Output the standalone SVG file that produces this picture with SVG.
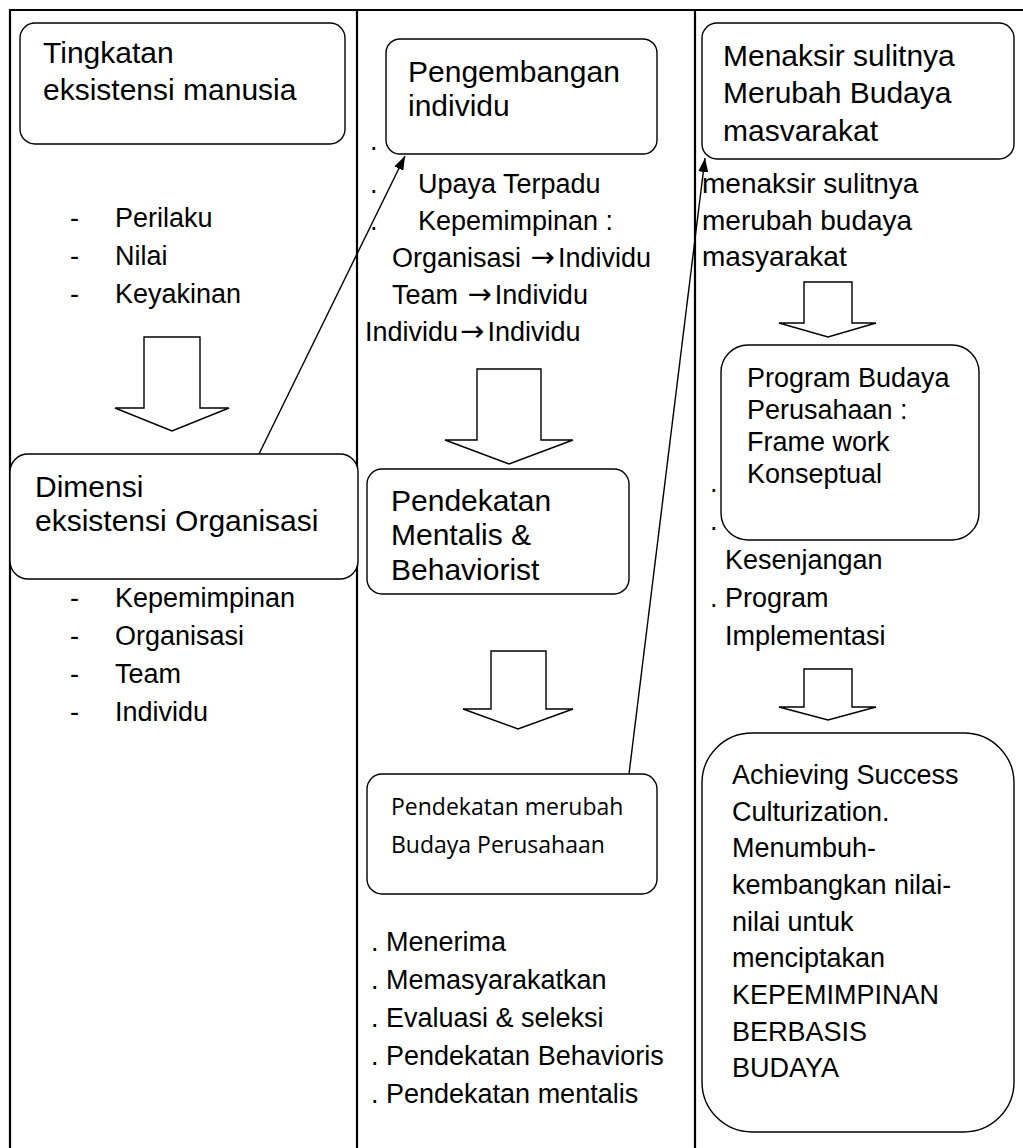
<svg xmlns="http://www.w3.org/2000/svg" width="1023" height="1148" viewBox="0 0 1023 1148">
  <defs>
    <style>
      .t{font-family:"Liberation Sans",Arial,sans-serif;fill:#000}
      .h{font-size:30px}
      .l{font-size:27px}
      .m{font-size:28px}
      .arr{font-family:"DejaVu Sans",sans-serif;font-size:29px}
      .c{font-family:"Open Sans","Noto Sans",sans-serif;font-size:23px;fill:#000}
      .box{fill:#fff;stroke:#000;stroke-width:1.4}
      .blk{fill:#fff;stroke:#000;stroke-width:1.4;stroke-linejoin:miter}
      .grid{stroke:#000;stroke-width:2.2;fill:none}
      .con{stroke:#000;stroke-width:1.4;fill:none}
    </style>
    <marker id="ah" viewBox="0 0 14 10" refX="14" refY="5" markerWidth="14" markerHeight="10" markerUnits="userSpaceOnUse" orient="auto">
      <path d="M0,0 L14,5 L0,10 z" fill="#000"/>
    </marker>
  </defs>

  <rect width="1023" height="1148" fill="#fff"/>

  <!-- table frame -->
  <g id="grid" class="grid">
    <line x1="9" y1="10" x2="1023" y2="10"/>
    <line x1="10" y1="9" x2="10" y2="1148"/>
    <line x1="357" y1="10" x2="357" y2="1148"/>
    <line x1="695" y1="10" x2="695" y2="1148"/>
  </g>

  <!-- column 1 -->
  <g id="tingkatan">
    <rect class="box" x="20" y="23" width="325" height="121" rx="15"/>
    <text class="t h" x="43" y="63">Tingkatan</text>
    <text class="t h" x="43" y="100">eksistensi manusia</text>
  </g>
  <g id="list-tingkatan" class="t l">
    <text x="70" y="227">-</text><text x="115" y="227">Perilaku</text>
    <text x="70" y="265">-</text><text x="115" y="265">Nilai</text>
    <text x="70" y="303">-</text><text x="115" y="303">Keyakinan</text>
  </g>
  <g id="arrow-1">
    <polygon class="blk" points="144,337 200,337 200,408 229,408 172,431 115,408 144,408"/>
  </g>
  <g id="dimensi">
    <rect class="box" x="10" y="454" width="348" height="125" rx="18"/>
    <text class="t h" x="35" y="497">Dimensi</text>
    <text class="t h" x="35" y="531">eksistensi Organisasi</text>
  </g>
  <g id="list-dimensi" class="t l">
    <text x="70" y="607">-</text><text x="115" y="607">Kepemimpinan</text>
    <text x="70" y="645">-</text><text x="115" y="645">Organisasi</text>
    <text x="70" y="683">-</text><text x="115" y="683">Team</text>
    <text x="70" y="721">-</text><text x="115" y="721">Individu</text>
  </g>

  <!-- column 2 -->
  <g id="list-pengembangan" class="t l">
    <text x="370" y="150">.</text>
    <text x="370" y="193">.</text><text x="418" y="193">Upaya Terpadu</text>
    <text x="370" y="230">.</text><text x="418" y="230">Kepemimpinan :</text>
    <text x="392" y="267">Organisasi <tspan class="arr" dx="2">→</tspan><tspan dx="3">Individu</tspan></text>
    <text x="392" y="304">Team <tspan class="arr" dx="2">→</tspan><tspan dx="3">Individu</tspan></text>
    <text x="365" y="341">Individu<tspan class="arr" dx="2">→</tspan><tspan dx="3">Individu</tspan></text>
  </g>
  <g id="pengembangan">
    <rect class="box" x="386" y="39" width="271" height="115" rx="14"/>
    <text class="t h" x="408" y="82">Pengembangan</text>
    <text class="t h" x="408" y="116">individu</text>
  </g>
  <g id="arrow-2">
    <polygon class="blk" points="477,369 541,369 541,440 573,440 509,464 445,440 477,440"/>
  </g>
  <g id="pendekatan-mb">
    <rect class="box" x="367" y="469" width="262" height="125" rx="15"/>
    <text class="t h" x="391" y="511">Pendekatan</text>
    <text class="t h" x="391" y="545">Mentalis &amp;</text>
    <text class="t h" x="391" y="580">Behaviorist</text>
  </g>
  <g id="arrow-3">
    <polygon class="blk" points="491,651 546,651 546,709 573,709 518,729 463,709 491,709"/>
  </g>
  <g id="pendekatan-budaya">
    <rect class="box" x="367" y="774" width="290" height="120" rx="15"/>
    <text class="c" x="391" y="815">Pendekatan merubah</text>
    <text class="c" x="391" y="853">Budaya Perusahaan</text>
  </g>
  <g id="list-pendekatan" class="t l">
    <text x="371" y="951">. Menerima</text>
    <text x="371" y="989">. Memasyarakatkan</text>
    <text x="371" y="1027">. Evaluasi &amp; seleksi</text>
    <text x="371" y="1065">. Pendekatan Behavioris</text>
    <text x="371" y="1103">. Pendekatan mentalis</text>
  </g>

  <!-- column 3 -->
  <g id="menaksir">
    <rect class="box" x="702" y="23" width="312" height="136" rx="15"/>
    <text class="t h" x="723" y="66">Menaksir sulitnya</text>
    <text class="t h" x="723" y="103">Merubah Budaya</text>
    <text class="t h" x="723" y="141">masvarakat</text>
  </g>
  <g id="list-menaksir" class="t m">
    <text x="702" y="193">menaksir sulitnya</text>
    <text x="702" y="230">merubah budaya</text>
    <text x="702" y="266">masyarakat</text>
  </g>
  <g id="arrow-4">
    <polygon class="blk" points="804,282 852,282 852,323 876,323 828,337 779,323 804,323"/>
  </g>
  <g id="list-program" class="t l">
    <text x="710" y="492">.</text>
    <text x="710" y="530">.</text>
    <text x="725" y="569">Kesenjangan</text>
    <text x="710" y="607">. Program</text>
    <text x="725" y="645">Implementasi</text>
  </g>
  <g id="program">
    <rect class="box" x="721" y="345" width="258" height="195" rx="27"/>
    <text class="t l" x="747" y="387">Program Budaya</text>
    <text class="t l" x="747" y="419">Perusahaan :</text>
    <text class="t l" x="747" y="451">Frame work</text>
    <text class="t l" x="747" y="483">Konseptual</text>
  </g>
  <g id="arrow-5">
    <polygon class="blk" points="804,669 852,669 852,707 876,707 828,720 779,707 804,707"/>
  </g>
  <g id="achieving">
    <rect class="box" x="702" y="733" width="312" height="399" rx="50"/>
    <g class="t l">
      <text x="732" y="784">Achieving Success</text>
      <text x="732" y="821">Culturization.</text>
      <text x="732" y="857">Menumbuh-</text>
      <text x="732" y="894">kembangkan nilai-</text>
      <text x="732" y="931">nilai untuk</text>
      <text x="732" y="967">menciptakan</text>
      <text x="732" y="1004">KEPEMIMPINAN</text>
      <text x="732" y="1041">BERBASIS</text>
      <text x="732" y="1077">BUDAYA</text>
    </g>
  </g>

  <!-- connectors -->
  <g id="connectors" class="con">
    <line x1="259" y1="454" x2="405" y2="156" marker-end="url(#ah)"/>
    <line x1="629" y1="774" x2="705" y2="158" marker-end="url(#ah)"/>
  </g>
</svg>
